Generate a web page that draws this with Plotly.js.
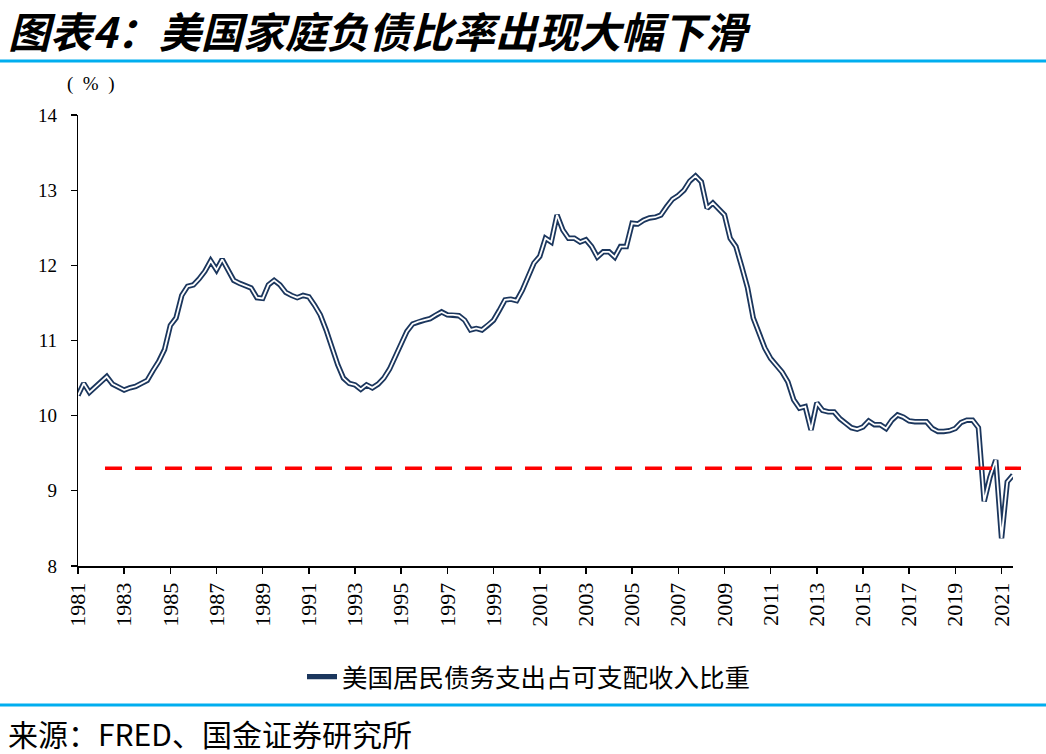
<!DOCTYPE html>
<html>
<head>
<meta charset="utf-8">
<script src="https://cdn.plot.ly/plotly-3.0.1.min.js"></script>
<style>html,body{margin:0;padding:0;background:#fff;}#chart{width:1046px;height:754px;}</style>
</head>
<body>
<div id="chart"></div>
<script>
// ---- data ----
const startYear = 1981;
// quarterly values (%), 1981Q1 .. 2021Q3
const debtRatio = [
  10.27, 10.43, 10.31, 10.38,  // 1981
  10.45, 10.52, 10.42, 10.38,  // 1982
  10.34, 10.37, 10.39, 10.43,  // 1983
  10.47, 10.60, 10.72, 10.88,  // 1984
  11.20, 11.30, 11.60, 11.72,  // 1985
  11.74, 11.82, 11.92, 12.06,  // 1986
  11.94, 12.08, 11.95, 11.80,  // 1987
  11.76, 11.73, 11.70, 11.57,  // 1988
  11.56, 11.74, 11.80, 11.74,  // 1989
  11.64, 11.60, 11.57, 11.60,  // 1990
  11.58, 11.47, 11.34, 11.14,  // 1991
  10.90, 10.68, 10.50, 10.43,  // 1992
  10.41, 10.35, 10.41, 10.37,  // 1993
  10.42, 10.50, 10.62, 10.78,  // 1994
  10.96, 11.12, 11.22, 11.25,  // 1995
  11.27, 11.29, 11.34, 11.38,  // 1996
  11.34, 11.34, 11.33, 11.27,  // 1997
  11.14, 11.16, 11.14, 11.20,  // 1998
  11.27, 11.40, 11.54, 11.55,  // 1999
  11.53, 11.67, 11.85, 12.03,  // 2000
  12.12, 12.36, 12.31, 12.67,  // 2001
  12.47, 12.36, 12.36, 12.31,  // 2002
  12.34, 12.25, 12.11, 12.18,  // 2003
  12.18, 12.11, 12.25, 12.25,  // 2004
  12.56, 12.55, 12.60, 12.63,  // 2005
  12.64, 12.67, 12.78, 12.88,  // 2006
  12.93, 13.00, 13.12, 13.19,  // 2007
  13.11, 12.76, 12.83, 12.75,  // 2008
  12.67, 12.36, 12.25, 11.98,  // 2009
  11.70, 11.30, 11.10, 10.90,  // 2010
  10.76, 10.67, 10.58, 10.45,  // 2011
  10.21, 10.10, 10.12,  9.81,  // 2012
  10.17, 10.07, 10.05, 10.05,  // 2013
   9.96,  9.90,  9.84,  9.82,  // 2014
   9.85,  9.93,  9.88,  9.88,  // 2015
   9.83,  9.94, 10.01,  9.98,  // 2016
   9.93,  9.92,  9.92,  9.92,  // 2017
   9.83,  9.79,  9.79,  9.80,  // 2018
   9.83,  9.91,  9.94,  9.94,  // 2019
   9.84,  8.86,  9.18,  9.41,  // 2020
   8.37,  9.12,  9.21           // 2021
];
const refLevel = 9.3;
const seriesName = '美国居民债务支出占可支配收入比重';
const titleText = '图表4：美国家庭负债比率出现大幅下滑';
const sourceText = '来源：FRED、国金证券研究所';
const unitText = '(\u2002%\u2002)';

// quarter dates
const quarterDates = debtRatio.map((v, i) => {
  const y = startYear + Math.floor(i / 4);
  const m = (i % 4) * 3 + 1;
  return y + '-' + String(m).padStart(2, '0') + '-01';
});

const navy = '#1B365D';
const traces = [
  {x: quarterDates, y: debtRatio, type: 'scatter', mode: 'lines', name: seriesName,
   line: {color: navy, width: 5.4}, showlegend: true, hoverinfo: 'skip'},
  {x: quarterDates, y: debtRatio, type: 'scatter', mode: 'lines', name: seriesName,
   line: {color: '#ffffff', width: 1.8}, showlegend: false}
];

const W = 1046, H = 754;
const L = 78, R = 33, T = 115, B = 188;
const pw = W - L - R, ph = H - T - B;
const px = xp => (xp - L) / pw;          // pixel -> paper x
const py = yp => (H - B - yp) / ph;      // pixel -> paper y

const layout = {
  width: W, height: H,
  margin: {l: L, r: R, t: T, b: B},
  paper_bgcolor: '#fff', plot_bgcolor: '#fff',
  annotations: [
    {text: titleText, xref: 'paper', yref: 'paper', x: px(6), y: py(29), xanchor: 'left', yanchor: 'middle',
     showarrow: false,
     font: {family: 'Noto Sans CJK SC', size: 42, color: '#000', weight: 700, style: 'italic'}},
    {text: unitText, xref: 'paper', yref: 'paper', x: px(90), y: py(84), xanchor: 'center', yanchor: 'middle',
     showarrow: false, font: {family: 'Liberation Serif', size: 19, color: '#000'}},
    {text: sourceText, xref: 'paper', yref: 'paper', x: px(6), y: py(733), xanchor: 'left', yanchor: 'middle',
     showarrow: false, font: {family: 'Noto Sans CJK SC', size: 30, color: '#000'}}
  ],
  xaxis: {type: 'date', range: [quarterDates[0], quarterDates[quarterDates.length - 1]],
          tick0: '1981-01-01', dtick: 'M24', tickformat: '%Y', tickangle: -90,
          ticks: 'outside', ticklen: 6, tickcolor: '#000', tickwidth: 1.5,
          showline: true, linecolor: '#000', linewidth: 2, showgrid: false, zeroline: false,
          tickfont: {family: 'Liberation Serif', size: 22, color: '#000'}, fixedrange: true},
  yaxis: {range: [8, 14], dtick: 1, tick0: 8,
          ticks: 'outside', ticklen: 6, tickcolor: '#000', tickwidth: 1.2,
          showline: true, linecolor: '#000', linewidth: 1.2, showgrid: false, zeroline: false,
          ticklabelstandoff: 10,
          tickfont: {family: 'Liberation Serif', size: 19, color: '#000'}, fixedrange: true},
  showlegend: true,
  legend: {x: px(302), xanchor: 'left', y: py(677), yanchor: 'middle', orientation: 'h',
           font: {family: 'Noto Sans CJK SC', size: 25.5, color: '#000'},
           bgcolor: 'rgba(0,0,0,0)'},
  shapes: [
    {type: 'line', xref: 'paper', yref: 'y', x0: px(105), x1: px(1021), y0: refLevel, y1: refLevel,
     line: {color: '#FF0000', width: 3.5, dash: '17px,13px'}, layer: 'above'},
    {type: 'line', xref: 'paper', yref: 'paper', x0: px(0), x1: px(W), y0: py(61), y1: py(61),
     line: {color: '#00AEEF', width: 3}},
    {type: 'line', xref: 'paper', yref: 'paper', x0: px(0), x1: px(W), y0: py(705), y1: py(705),
     line: {color: '#00AEEF', width: 3}}
  ]
};

Plotly.newPlot('chart', traces, layout, {staticPlot: true, displayModeBar: false});
</script>
</body>
</html>
